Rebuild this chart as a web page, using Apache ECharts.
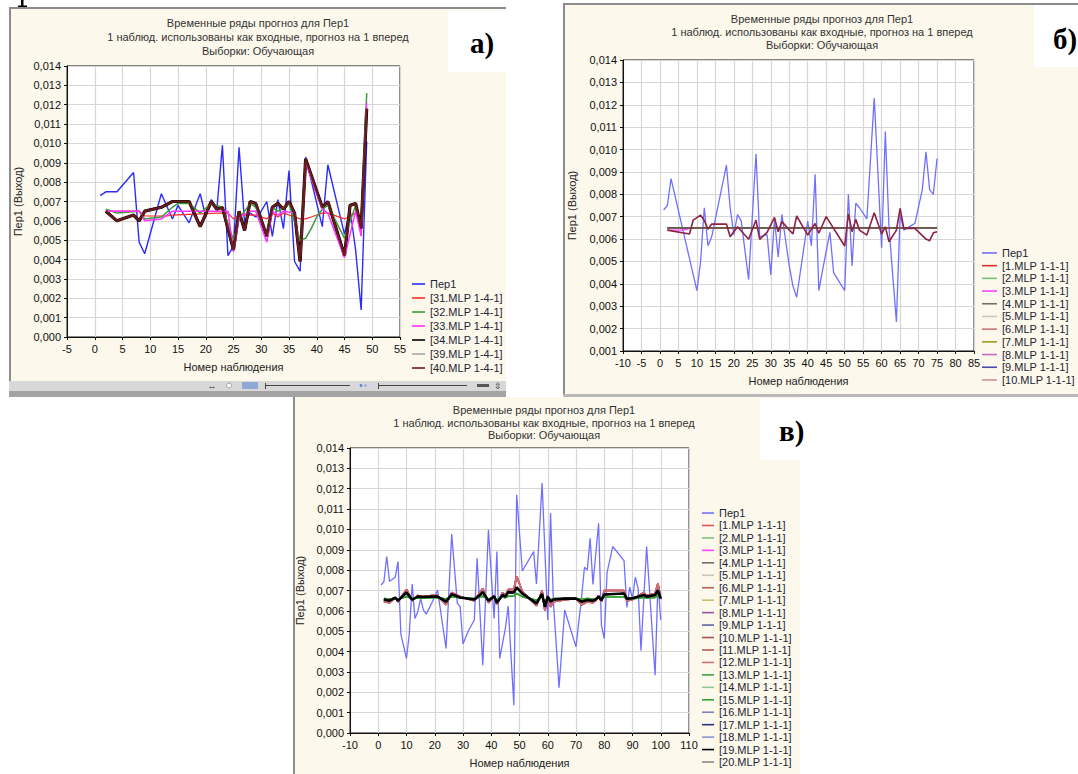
<!DOCTYPE html>
<html><head><meta charset="utf-8">
<script src="https://cdn.jsdelivr.net/npm/echarts@6.0.0/dist/echarts.min.js"></script>
<style>
html,body{margin:0;padding:0;background:#fff;width:1078px;height:774px;overflow:hidden;}
.pnl{position:absolute;background:#fcf8ec;box-sizing:border-box;}
#chart{position:absolute;left:0;top:0;width:1078px;height:774px;}
</style></head><body>
<div class="pnl" style="left:9px;top:7px;width:497px;height:374px;border-left:2px solid #8c8c8c;border-top:2px solid #8c8c8c;"></div>
<div class="pnl" style="left:563px;top:3px;width:515px;height:391px;border-left:2px solid #8c8c8c;border-top:2px solid #8c8c8c;"></div>
<div class="pnl" style="left:293px;top:397px;width:507px;height:377px;border-left:2px solid #8c8c8c;"></div>
<div id="chart"></div>
<script>
// ---------- texts ----------
const titleLines = ['Временные ряды прогноз для Пер1', '1 наблюд. использованы как входные, прогноз на 1 вперед', 'Выборки: Обучающая'];
const xName = 'Номер наблюдения';
const yName = 'Пер1 (Выход)';

// ---------- panel а) ----------
const aPer1X = [1,2,4,7,8,9,12,14,15,17,19,20,21,22,23,24,25,26,27,28,29,30,31,32,33,34,35,36,37,38,41,42,45,46,47,48,49];
const aPer1Y = [0.0073,0.0075,0.0075,0.0085,0.0049,0.0043,0.0074,0.0061,0.0068,0.0059,0.0074,0.0062,0.0071,0.0066,0.0099,0.0042,0.0047,0.0098,0.0059,0.0064,0.0062,0.0065,0.0070,0.0052,0.0071,0.0056,0.0086,0.0039,0.0034,0.0093,0.0057,0.0089,0.0053,0.0066,0.0045,0.0014,0.0101];
const aM31X = [2,8,9,13,14,22,24,25,26,29,31,32,33,34,35,37,38,39,40,41,42,45,47,48];
const aM31Y = [0.0065,0.0065,0.00625,0.00625,0.0063,0.0064,0.0064,0.0061,0.0063,0.0063,0.0061,0.0064,0.0062,0.0064,0.0063,0.0061,0.0061,0.0062,0.0063,0.0064,0.0064,0.0061,0.0064,0.0062];
const aM32X = [2,4,8,9,12,14,15,17,19,21,23,25,26,28,29,31,32,33,34,35,37,38,39,40,41,42,45,47,48,49];
const aM32Y = [0.0066,0.0064,0.0065,0.0061,0.0062,0.0067,0.0069,0.0069,0.0064,0.0069,0.0067,0.0050,0.0061,0.0069,0.0067,0.0053,0.0067,0.0065,0.0067,0.0069,0.0050,0.0051,0.0056,0.0062,0.0066,0.0068,0.0051,0.0068,0.0055,0.0126];
const aM33X = [2,8,9,12,14,24,25,26,28,29,31,32,33,34,36,37,38,41,42,45,47,48,49];
const aM33Y = [0.0065,0.0065,0.0060,0.0061,0.0065,0.0065,0.0044,0.0062,0.0065,0.0065,0.0049,0.0065,0.0063,0.0065,0.0064,0.0040,0.0090,0.0066,0.0064,0.0041,0.0065,0.0052,0.0121];
const aM40X = [2,4,7,8,9,12,14,15,17,19,21,22,23,25,26,27,28,29,31,32,33,34,35,36,37,38,41,42,45,46,47,48,49];
const aM40Y = [0.0065,0.0060,0.0063,0.0060,0.0065,0.0067,0.0070,0.0070,0.0070,0.0057,0.0070,0.0066,0.0067,0.0045,0.0065,0.0055,0.0070,0.0069,0.0052,0.0067,0.0069,0.0066,0.0070,0.0064,0.0039,0.0092,0.0067,0.0070,0.0042,0.0068,0.0069,0.0056,0.0118];

// ---------- panel б) ----------
const bPer1X = [1,2,3,10,11,12,13,14,18,19,20,21,22,24,26,27,29,30,31,32,33,35,36,37,40,41,42,43,44,46,47,50,51,52,53,54,56,58,60,61,62,64,65,66,69,71,72,73,74,75];
const bPer1Y = [0.0073,0.0075,0.0087,0.0037,0.0050,0.0074,0.0057,0.0061,0.0093,0.0074,0.0062,0.0071,0.0068,0.0042,0.0098,0.0061,0.0062,0.0044,0.0069,0.0052,0.0071,0.0048,0.0039,0.0034,0.0068,0.0057,0.0089,0.0037,0.0046,0.0063,0.0045,0.0037,0.0080,0.0048,0.0076,0.0074,0.0069,0.0123,0.0056,0.0108,0.0065,0.0023,0.0071,0.0064,0.0067,0.0082,0.0099,0.0082,0.0080,0.0096];
const bWiggleX = [2,8,9,11,12,13,14,18,19,21,24,26,27,29,31,32,33,36,37,40,42,43,45,50,51,52,53,54,56,58,60,61,62,64,65,66,69,72,73,74,75];
const bWiggleY = [0.0064,0.00623,0.00685,0.00707,0.00683,0.00644,0.00667,0.00667,0.0061,0.00655,0.00599,0.00685,0.00599,0.0063,0.00697,0.00633,0.00678,0.00623,0.00703,0.00618,0.0067,0.00626,0.0070,0.00569,0.00712,0.00633,0.00688,0.0064,0.00618,0.00718,0.00623,0.00655,0.00588,0.0064,0.00737,0.00648,0.00648,0.0060,0.00593,0.00628,0.00633];
const bFlatX = [2,75];
const bFlatY = [0.0065,0.0065];
const bPinkX = [2,6,9,75];
const bPinkY = [0.0064,0.0064,0.0065,0.0065];

// ---------- panel в) ----------
const vPer1X = [1,2,3,4,6,7,8,10,11,12,13,14,15,16,17,19,21,24,26,28,29,30,32,34,35,37,39,41,42,43,45,46,48,49,51,55,56,58,60,61,62,64,66,70,72,73,74,75,76,78,79,80,81,83,87,88,89,90,91,92,93,95,98,99,100];
const vPer1Y = [0.00727,0.00743,0.00867,0.00745,0.00765,0.00842,0.00486,0.00366,0.00489,0.00732,0.00563,0.00596,0.0066,0.00604,0.00584,0.0064,0.00702,0.00415,0.00977,0.00637,0.0062,0.00437,0.00505,0.00555,0.00858,0.00333,0.00998,0.00563,0.00891,0.00366,0.00514,0.00624,0.00136,0.0117,0.00796,0.00891,0.00732,0.01228,0.00555,0.0108,0.00645,0.00223,0.00604,0.00423,0.0067,0.00814,0.0080,0.00957,0.0073,0.0103,0.0053,0.00464,0.00788,0.00916,0.00847,0.00617,0.00716,0.0066,0.00765,0.0071,0.00404,0.00916,0.00284,0.00735,0.00555];
const vMlpX = [2,4,6,7,10,12,14,16,19,21,24,26,29,34,36,37,39,41,42,44,45,46,48,49,51,56,58,59,60,61,62,66,70,72,74,76,77,78,79,80,87,88,90,94,95,98,99,100];
const vMidY = [0.00656,0.0065,0.00665,0.0065,0.0069,0.00655,0.0067,0.00668,0.0067,0.0067,0.00645,0.00682,0.00666,0.00656,0.00678,0.00692,0.0065,0.00672,0.0064,0.00678,0.0067,0.00692,0.0069,0.00715,0.00685,0.00637,0.00683,0.0062,0.0067,0.00645,0.00656,0.0066,0.0066,0.00645,0.00653,0.0065,0.00656,0.0067,0.00653,0.0068,0.00685,0.0066,0.00662,0.00678,0.0067,0.00678,0.0070,0.0066];
const vHighY = [0.00645,0.0064,0.00665,0.00645,0.00705,0.0065,0.00675,0.0067,0.00675,0.00675,0.0063,0.0069,0.0067,0.0065,0.0069,0.0071,0.0064,0.00675,0.0063,0.0069,0.00675,0.00705,0.00705,0.0077,0.00695,0.00625,0.0070,0.0060,0.00675,0.0062,0.00645,0.00655,0.0066,0.0063,0.00645,0.0064,0.0065,0.00675,0.00645,0.0070,0.0070,0.0065,0.00655,0.0069,0.00675,0.00685,0.00735,0.0066];
const vLowY = [0.0066,0.00658,0.00662,0.00658,0.0067,0.0066,0.00665,0.00664,0.00665,0.00665,0.00658,0.0067,0.00664,0.0066,0.00668,0.00672,0.00658,0.00665,0.00655,0.00668,0.00665,0.00672,0.00672,0.00685,0.0067,0.00652,0.0067,0.00645,0.00665,0.00655,0.0066,0.0066,0.0066,0.00658,0.0066,0.00658,0.0066,0.00663,0.0066,0.00668,0.00668,0.0066,0.0066,0.00666,0.00664,0.00666,0.00675,0.0066];

// names
const aNames = ['Пер1','[31.MLP 1-4-1]','[32.MLP 1-4-1]','[33.MLP 1-4-1]','[34.MLP 1-4-1]','[39.MLP 1-4-1]','[40.MLP 1-4-1]'];
const bNames = ['Пер1','[1.MLP 1-1-1]','[2.MLP 1-1-1]','[3.MLP 1-1-1]','[4.MLP 1-1-1]','[5.MLP 1-1-1]','[6.MLP 1-1-1]','[7.MLP 1-1-1]','[8.MLP 1-1-1]','[9.MLP 1-1-1]','[10.MLP 1-1-1]'];
const vNames = ['Пер1','[1.MLP 1-1-1]','[2.MLP 1-1-1]','[3.MLP 1-1-1]','[4.MLP 1-1-1]','[5.MLP 1-1-1]','[6.MLP 1-1-1]','[7.MLP 1-1-1]','[8.MLP 1-1-1]','[9.MLP 1-1-1]','[10.MLP 1-1-1]','[11.MLP 1-1-1]','[12.MLP 1-1-1]','[13.MLP 1-1-1]','[14.MLP 1-1-1]','[15.MLP 1-1-1]','[16.MLP 1-1-1]','[17.MLP 1-1-1]','[18.MLP 1-1-1]','[19.MLP 1-1-1]','[20.MLP 1-1-1]'];

const aColors = ['#2b2bff','#ff2a2a','#3a9a3a','#ff33ff','#000000','#a8a8a8','#6b1a1a'];
const bColors = ['#7070ff','#e03030','#78c078','#ff44ff','#707070','#c8c8c0','#c87878','#9a9a20','#c070c0','#4848b0','#d09090'];
const vColors = ['#7070ff','#e85050','#80c080','#ff44ff','#707070','#c8c8b8','#b86060','#c8c070','#a050a0','#6060a0','#a85050','#b85a5a','#d07070','#40a040','#90c890','#30a030','#8080c0','#303080','#9090d0','#000000','#888888'];

// ---------- build ----------
const FONT = '"Liberation Sans", Arial, sans-serif';
const pairs = (xs, ys) => xs.map((x, i) => [x, ys[i]]);
const fmtY = v => v.toFixed(3).replace('.', ',');

const gridBoxes = [
  {left: 67, top: 66, width: 333, height: 271},
  {left: 623, top: 60, width: 351, height: 291},
  {left: 350, top: 448, width: 339, height: 285}
];
const xRanges = [[-5, 55, 5], [-10, 85, 5], [-10, 110, 10]];
const yRanges = [[0, 0.014, 0.001], [0.001, 0.014, 0.001], [0, 0.014, 0.001]];
const yNameGap = [44, 46, 45];

function line(name, gi, xs, ys, color, width, z) {
  return {type: 'line', name, xAxisIndex: gi, yAxisIndex: gi, data: pairs(xs, ys),
    symbol: 'none', showSymbol: false, smooth: false, animation: false, silent: true,
    lineStyle: {color, width}, itemStyle: {color}, z: z || 2};
}

const series = [
  line(aNames[0], 0, aPer1X, aPer1Y, aColors[0], 1.4, 2),
  line(aNames[1], 0, aM31X, aM31Y, aColors[1], 1.2, 3),
  line(aNames[4], 0, aM40X, aM40Y, aColors[4], 3.2, 4),
  line(aNames[5], 0, aM40X, aM40Y, aColors[5], 1, 4),
  line(aNames[2], 0, aM32X, aM32Y, aColors[2], 1.5, 5),
  line(aNames[3], 0, aM33X, aM33Y, aColors[3], 1.5, 5),
  line(aNames[6], 0, aM40X, aM40Y, aColors[6], 2.2, 6),

  line(bNames[0], 1, bPer1X, bPer1Y, bColors[0], 1.3, 2),
  line(bNames[1], 1, bFlatX, bFlatY, bColors[1], 1.2, 3),
  line(bNames[2], 1, bFlatX, bFlatY, bColors[2], 1.2, 3),
  line(bNames[3], 1, bPinkX, bPinkY, bColors[3], 1.2, 3),
  line(bNames[4], 1, bFlatX, bFlatY, bColors[4], 1.2, 3),
  line(bNames[5], 1, bFlatX, bFlatY, bColors[5], 1.2, 3),
  line(bNames[6], 1, bFlatX, bFlatY, bColors[6], 1.2, 3),
  line(bNames[7], 1, bFlatX, bFlatY, '#6a5a20', 1.4, 4),
  line(bNames[8], 1, bFlatX, bFlatY, bColors[8], 1.2, 3),
  line(bNames[9], 1, bFlatX, bFlatY, bColors[9], 1.2, 3),
  line(bNames[10], 1, bWiggleX, bWiggleY, '#8c2244', 1.6, 5),

  line(vNames[0], 2, vPer1X, vPer1Y, vColors[0], 1.3, 2)
];
const vData = [null, vHighY, vLowY, vHighY, vMidY, vMidY, vHighY, vMidY, vMidY, vMidY, vHighY, vHighY, vHighY, vLowY, vLowY, vLowY, vMidY, vMidY, vMidY, vMidY, vMidY];
for (let i = 1; i < vNames.length; i++) {
  const isBlack = i === 19;
  const z = vData[i] === vHighY ? 3 : (vData[i] === vLowY ? 4 : 5);
  series.push(line(vNames[i], 2, vMlpX, vData[i], vColors[i], isBlack ? 2.6 : 1.6, isBlack ? 7 : z));
}

const grid = gridBoxes.map(g => Object.assign({show: true, backgroundColor: '#ffffff', borderColor: '#111', borderWidth: 1, containLabel: false, outerBoundsMode: 'none'}, g));

const xAxis = xRanges.map((r, i) => ({
  gridIndex: i, type: 'value', min: r[0], max: r[1], interval: r[2],
  axisLine: {show: true, onZero: false, lineStyle: {color: '#111', width: 1}},
  axisTick: {show: true, length: 3, lineStyle: {color: '#111'}},
  axisLabel: {color: '#111', fontSize: 11, fontFamily: FONT, margin: 6, hideOverlap: false, showMinLabel: true, showMaxLabel: true},
  splitLine: {show: true, lineStyle: {color: '#d6d6d6', width: 1.2}},
  name: xName, nameLocation: 'middle', nameGap: 24,
  nameTextStyle: {color: '#222', fontSize: 11, fontFamily: FONT}
}));
const yAxis = yRanges.map((r, i) => ({
  gridIndex: i, type: 'value', min: r[0], max: r[1], interval: r[2],
  axisLine: {show: true, onZero: false, lineStyle: {color: '#111', width: 1}},
  axisTick: {show: true, length: 3, lineStyle: {color: '#111'}},
  axisLabel: {color: '#111', fontSize: 11, fontFamily: FONT, margin: 6, formatter: fmtY, hideOverlap: false, showMinLabel: true, showMaxLabel: true},
  splitLine: {show: true, lineStyle: {color: '#d6d6d6', width: 1.2}},
  name: yName, nameLocation: 'middle', nameGap: yNameGap[i], nameRotate: 90,
  nameTextStyle: {color: '#222', fontSize: 11, fontFamily: FONT}
}));

function legend(names, colors, left, top, iw, lh) {
  return {
    orient: 'vertical', left, top, padding: 0, itemGap: 0, itemWidth: iw, itemHeight: 1.6,
    icon: 'rect', selectedMode: false,
    textStyle: {color: '#1e2433', fontSize: 11, fontFamily: FONT, lineHeight: lh},
    data: names.map((n, i) => ({name: n, icon: 'rect', itemStyle: {color: colors[i], borderWidth: 0}}))
  };
}
const legends = [
  legend(aNames, aColors, 412, 277, 13, 14),
  legend(bNames, bColors, 982, 246.6, 15, 12.7),
  legend(vNames, vColors, 702, 506.8, 12, 12.45)
];

function txt(text, x, y, font, fill, align) {
  return {type: 'text', x, y, z: 100, silent: true,
    style: {text, font, fill, align: align || 'center', textAlign: align || 'center', verticalAlign: 'middle', textVerticalAlign: 'middle'}};
}
function rect(x, y, w, h, fill, z) {
  return {type: 'rect', shape: {x, y, width: w, height: h}, style: {fill}, z: z || 90, silent: true};
}
function seg(x1, y1, x2, y2, stroke, lw) {
  return {type: 'line', shape: {x1, y1, x2, y2}, style: {stroke, lineWidth: lw || 1}, z: 95, silent: true};
}
const TF = '11px ' + FONT;
const titleCenters = [[258, [23, 37, 51]], [822, [19, 32, 45]], [544, [410, 423, 435]]];
const graphics = [];
titleCenters.forEach(([cx, ys]) => ys.forEach((y, k) => graphics.push(txt(titleLines[k], cx, y, TF, '#333'))));
// panel letter boxes
graphics.push(rect(448, 10, 58, 62, '#ffffff'));
graphics.push(rect(1034, 5, 44, 62, '#ffffff'));
graphics.push(rect(760, 398, 60, 62, '#ffffff'));
const LF = 'bold 29px "Liberation Serif", "Times New Roman", serif';
graphics.push(txt('а)', 470, 43, LF, '#000', 'left'));
graphics.push(txt('б)', 1053, 39, LF, '#000', 'left'));
graphics.push(txt('в)', 779, 431, LF, '#000', 'left'));
// cropped glyph remnant at the top-left corner of the page (drawn as strokes)
graphics.push(rect(21, 0, 2.5, 6, '#000'));
graphics.push(rect(18, 5.5, 9, 1.5, '#000'));
// toolbar under panel а
graphics.push(rect(9, 381, 497, 10, '#d8d8d8'));
graphics.push(rect(9, 391, 497, 6, '#a4a4a4'));
graphics.push(rect(242, 382, 16, 7, '#8fa9d6'));
graphics.push(seg(266, 385.5, 350, 385.5, '#444', 1));
graphics.push(seg(265.5, 383, 265.5, 389, '#444', 1));
graphics.push(seg(379, 385.5, 467, 385.5, '#444', 1));
graphics.push(seg(378.5, 383, 378.5, 389, '#444', 1));
graphics.push({type: 'circle', shape: {cx: 361, cy: 385.5, r: 1.5}, style: {fill: '#5f84d8'}, z: 95, silent: true});
graphics.push({type: 'circle', shape: {cx: 365.5, cy: 385.5, r: 1.5}, style: {fill: '#9fb4e0'}, z: 95, silent: true});
graphics.push({type: 'circle', shape: {cx: 370, cy: 385.5, r: 1.5}, style: {fill: '#c8d4ee'}, z: 95, silent: true});
graphics.push(rect(477, 384, 12, 3, '#555'));
graphics.push(txt('⇳', 498, 386, '9px ' + FONT, '#333'));
graphics.push(txt('↔', 212, 386, '9px ' + FONT, '#333'));
graphics.push({type: 'circle', shape: {cx: 229, cy: 385.5, r: 2.5}, style: {fill: '#fff', stroke: '#999'}, z: 95, silent: true});
// strip under panel б
graphics.push(rect(563, 394, 515, 3, '#b8b8b8'));

const chart = echarts.init(document.getElementById('chart'), null, {renderer: 'svg', width: 1078, height: 774});
chart.setOption({
  backgroundColor: 'transparent',
  animation: false,
  grid, xAxis, yAxis,
  legend: legends,
  series,
  graphic: {elements: graphics}
});
</script>
</body></html>
